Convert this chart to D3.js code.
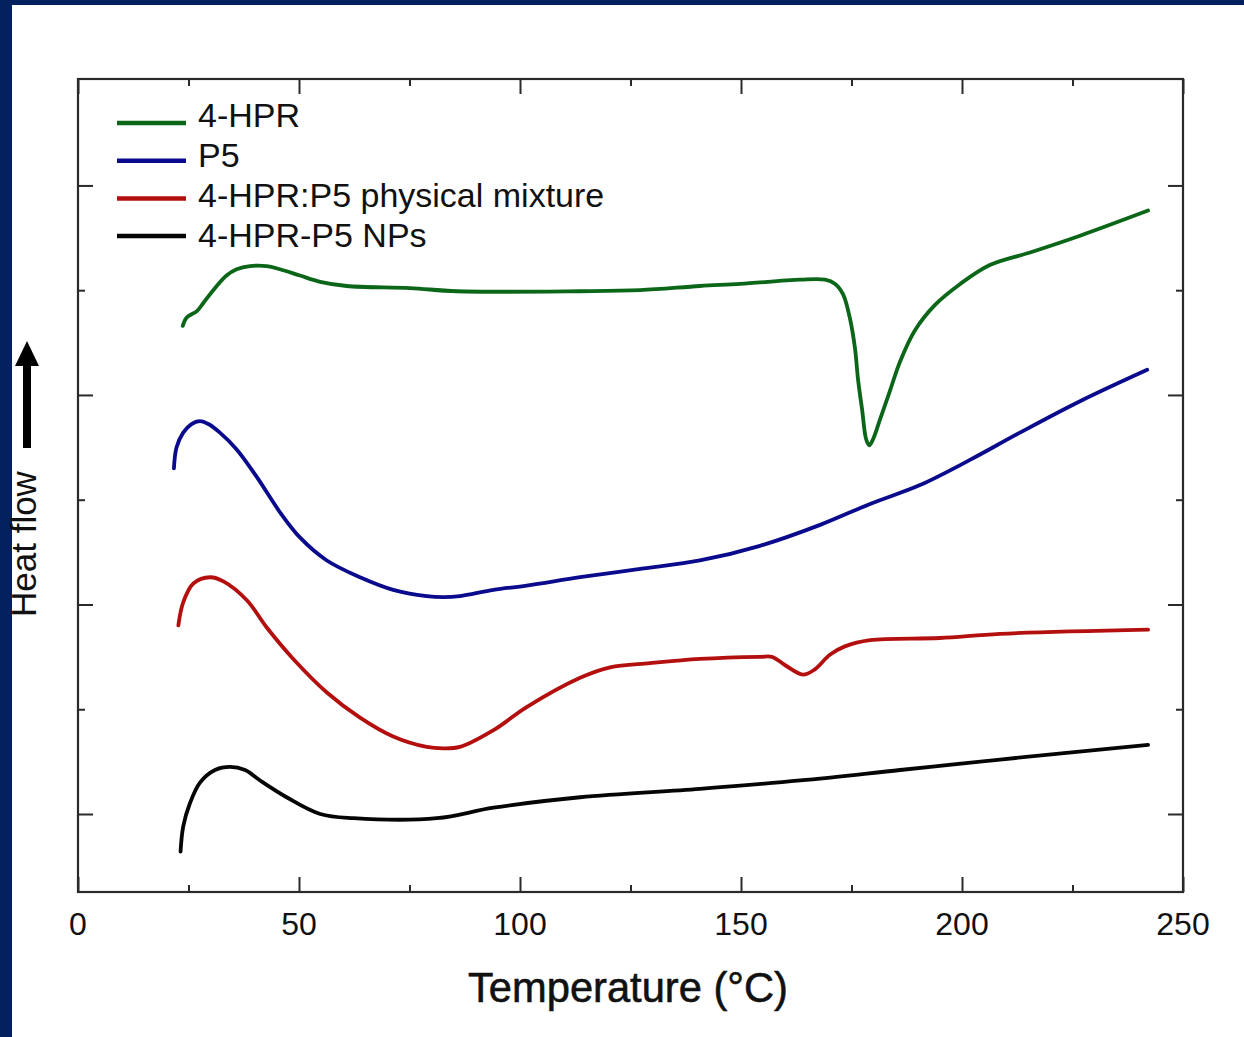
<!DOCTYPE html>
<html lang="en">

<head>
    <meta charset="UTF-8">
    <script src="https://cdn.jsdelivr.net/npm/d3@7"></script>
    <title>DSC curves</title>
    <style>
        body {
            margin: 0;
            background: white;
        }

        text {
            font-family: "Liberation Sans", Arial, sans-serif;
            fill: #111;
        }
    </style>
</head>

<body>
    <div id="chart"></div>

    <script>
        /*------------------- data ------------------------------------------*/
        // temperature in degC, heat flow in arbitrary units (1 unit = one major tick)
        const seriesNames = ["4-HPR", "P5", "4-HPR:P5 physical mixture", "4-HPR-P5 NPs"];
        const seriesColors = ["#0b6618", "#0a0a8c", "#b30f0f", "#050505"];

        const hprT = [23.7, 24.6, 26.9, 28.4, 30.6, 33.6, 35.9, 38.9, 42.7, 45.7, 50.2, 54.8, 60.8, 75.1, 85.7, 113.6, 127.2, 140.7, 149.8, 163.4, 169.0, 171.3, 173.1, 174.7, 175.8, 176.5, 177.4, 178.3, 179.0, 179.9, 181.4, 183.7, 186.0, 189.4, 193.9, 199.6, 206.3, 215.4, 226.7, 242.1];
        const hprY = [2.33, 2.37, 2.40, 2.44, 2.50, 2.57, 2.60, 2.615, 2.615, 2.60, 2.57, 2.54, 2.52, 2.51, 2.495, 2.495, 2.50, 2.52, 2.53, 2.55, 2.55, 2.53, 2.48, 2.36, 2.22, 2.07, 1.93, 1.79, 1.76, 1.79, 1.88, 2.02, 2.16, 2.31, 2.43, 2.53, 2.62, 2.68, 2.76, 2.88];

        const p5T = [21.7, 22.3, 23.8, 25.6, 27.6, 29.6, 32.1, 35.9, 40.4, 45.7, 50.2, 56.3, 63.8, 71.3, 78.9, 82.6, 86.4, 94.0, 101.5, 113.6, 127.2, 140.7, 154.3, 167.9, 179.2, 190.5, 201.8, 213.1, 226.7, 241.9];
        const p5Y = [1.65, 1.75, 1.82, 1.86, 1.875, 1.86, 1.82, 1.74, 1.61, 1.44, 1.32, 1.21, 1.13, 1.07, 1.04, 1.035, 1.04, 1.07, 1.09, 1.13, 1.17, 1.21, 1.28, 1.38, 1.48, 1.57, 1.69, 1.82, 1.97, 2.12];

        const mixT = [22.7, 23.8, 26.1, 29.9, 32.9, 38.2, 42.7, 48.7, 56.3, 63.8, 71.3, 78.9, 82.6, 86.4, 94.0, 101.5, 113.6, 120.4, 129.4, 140.7, 154.3, 157.0, 160.0, 164.0, 166.7, 170.1, 173.5, 179.2, 195.0, 208.6, 242.1];
        const mixY = [0.90, 1.01, 1.10, 1.13, 1.11, 1.02, 0.89, 0.74, 0.58, 0.46, 0.37, 0.32, 0.313, 0.32, 0.40, 0.51, 0.65, 0.70, 0.72, 0.74, 0.75, 0.75, 0.71, 0.665, 0.69, 0.76, 0.80, 0.83, 0.84, 0.86, 0.88];

        const npT = [23.2, 23.8, 25.3, 27.6, 31.0, 34.4, 37.8, 41.2, 47.2, 54.8, 62.3, 81.2, 94.0, 113.6, 140.7, 163.4, 186.0, 208.6, 242.1];
        const npY = [-0.18, -0.06, 0.05, 0.15, 0.21, 0.225, 0.21, 0.16, 0.08, 0.00, -0.02, -0.02, 0.03, 0.08, 0.12, 0.16, 0.21, 0.26, 0.33];

        const xMajorTicks = [0, 50, 100, 150, 200, 250];
        const xMinorTicks = [25, 75, 125, 175, 225];
        const yMajorTicks = [0, 1, 2, 3];
        const yMinorTicks = [0.5, 1.5, 2.5];

        /*------------------- window setting --------------------*/
        const width = 1244;
        const height = 1037;
        const plot = { left: 78, right: 1183, top: 79, bottom: 892 };

        const svg = d3.select("#chart").append("svg")
            .attr("width", width)
            .attr("height", height);

        // navy frame of the slide
        svg.append("rect").attr("x", 0).attr("y", 0).attr("width", width).attr("height", 5).attr("fill", "#03205f");
        svg.append("rect").attr("x", 0).attr("y", 0).attr("width", 12).attr("height", height).attr("fill", "#03205f");

        /*------------------- scales --------------------*/
        const x = d3.scaleLinear().domain([0, 250]).range([plot.left, plot.right]);
        const y = d3.scaleLinear().domain([-0.3723, 3.508]).range([plot.bottom, plot.top]);

        /*------------------- axes (ticks inward on all four sides) --------------------*/
        const majorLen = 15, minorLen = 7;
        const axisColor = "#2a2a2a";

        const addAxis = (axis, transform, major, minor) => {
            const gMaj = svg.append("g").attr("transform", transform)
                .call(axis.tickValues(major).tickSizeInner(-majorLen).tickSizeOuter(0).tickFormat(""));
            const gMin = svg.append("g").attr("transform", transform)
                .call(axis.tickValues(minor).tickSizeInner(-minorLen).tickSizeOuter(0).tickFormat(""));
            [gMaj, gMin].forEach(g => {
                g.select(".domain").remove();
                g.selectAll(".tick line").attr("stroke", axisColor).attr("stroke-width", 2);
            });
        };

        addAxis(d3.axisBottom(x), `translate(0,${plot.bottom})`, xMajorTicks, xMinorTicks);
        addAxis(d3.axisTop(x), `translate(0,${plot.top})`, xMajorTicks, xMinorTicks);
        addAxis(d3.axisLeft(y), `translate(${plot.left},0)`, yMajorTicks, yMinorTicks);
        addAxis(d3.axisRight(y), `translate(${plot.right},0)`, yMajorTicks, yMinorTicks);

        svg.append("rect")
            .attr("x", plot.left).attr("y", plot.top)
            .attr("width", plot.right - plot.left).attr("height", plot.bottom - plot.top)
            .attr("fill", "none").attr("stroke", axisColor).attr("stroke-width", 2.2);

        // x tick labels
        svg.append("g").selectAll("text")
            .data(xMajorTicks)
            .enter()
            .append("text")
            .attr("x", d => x(d))
            .attr("y", 935)
            .attr("text-anchor", "middle")
            .attr("font-size", 32)
            .text(d => d);

        svg.append("text")
            .attr("x", 628)
            .attr("y", 1002)
            .attr("text-anchor", "middle")
            .attr("font-size", 43)
            .attr("textLength", 320)
            .attr("lengthAdjust", "spacingAndGlyphs")
            .attr("stroke", "#111").attr("stroke-width", 0.6)
            .text("Temperature (°C)");

        // y label with arrow
        svg.append("text")
            .attr("transform", "translate(36,617) rotate(-90)")
            .attr("font-size", 35)
            .attr("fill", "#000")
            .text("Heat flow");

        svg.append("rect").attr("x", 23).attr("y", 362).attr("width", 8).attr("height", 86).attr("fill", "#000");
        svg.append("path").attr("d", "M15,366 L27,341 L39,366 Z").attr("fill", "#000");

        /*------------------- curves --------------------*/
        const allSeries = [
            d3.zip(hprT, hprY),
            d3.zip(p5T, p5Y),
            d3.zip(mixT, mixY),
            d3.zip(npT, npY)
        ];

        const line = d3.line()
            .x(d => x(d[0]))
            .y(d => y(d[1]))
            .curve(d3.curveCatmullRom.alpha(0.5));

        svg.append("g").selectAll("path")
            .data(allSeries)
            .enter()
            .append("path")
            .attr("d", d => line(d))
            .attr("fill", "none")
            .attr("stroke", (d, i) => seriesColors[i])
            .attr("stroke-width", 3.8)
            .attr("stroke-linejoin", "round")
            .attr("stroke-linecap", "round");

        /*------------------- legend --------------------*/
        const legend = svg.append("g").selectAll("g")
            .data(seriesNames)
            .enter()
            .append("g");

        legend.append("line")
            .attr("x1", 117).attr("x2", 186)
            .attr("y1", (d, i) => 123 + i * 37.7)
            .attr("y2", (d, i) => 123 + i * 37.7)
            .attr("stroke", (d, i) => seriesColors[i])
            .attr("stroke-width", 4.5);

        legend.append("text")
            .attr("x", 198)
            .attr("y", (d, i) => 127 + i * 40)
            .attr("font-size", 34)
            .text(d => d);
    </script>
</body>

</html>
